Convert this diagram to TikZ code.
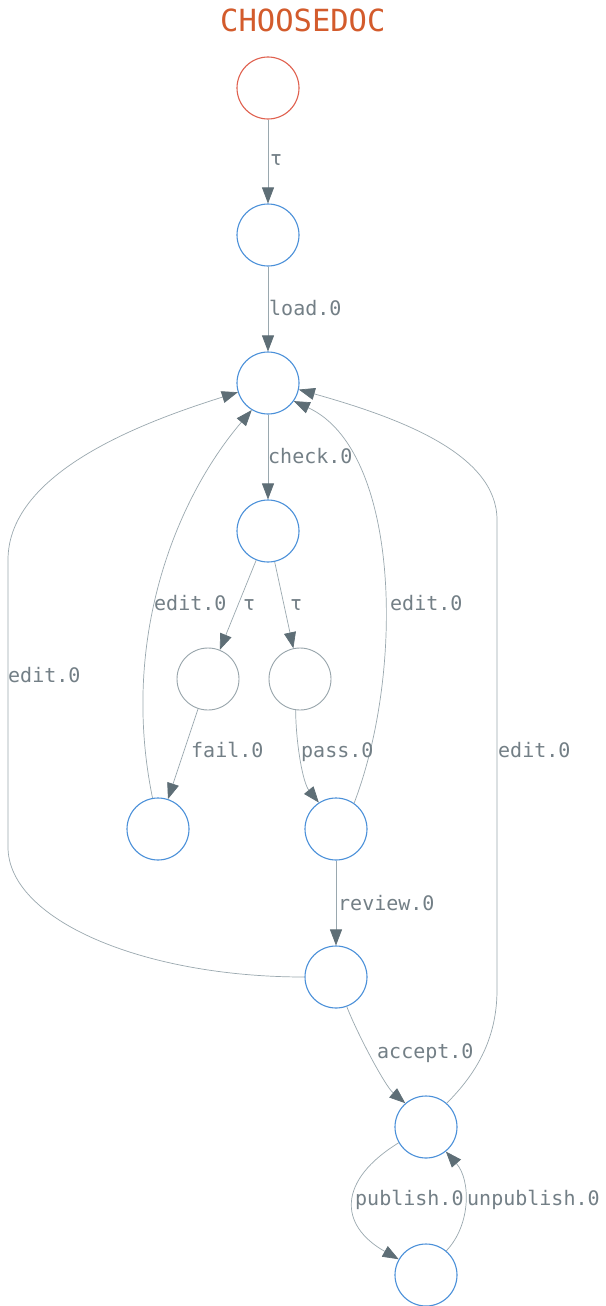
\documentclass[tikz,border=0pt]{standalone}
\usepackage{fontspec}
\newfontfamily\monofont{DejaVu Sans Mono}
\usetikzlibrary{arrows.meta}
\definecolor{stateblue}{HTML}{4A90D9}
\definecolor{statered}{HTML}{E0604E}
\definecolor{stategray}{HTML}{97A4AA}
\definecolor{edgegray}{HTML}{9AA8AF}
\definecolor{arrowdark}{HTML}{5E6E76}
\definecolor{labelgray}{HTML}{737F86}
\definecolor{titleorange}{HTML}{D35B2C}
\begin{document}
\begin{tikzpicture}[x=1pt,y=-1pt,
  state/.style={circle, draw=stateblue, line width=1.1pt, minimum size=62pt, inner sep=0pt},
  initstate/.style={state, draw=statered},
  plainstate/.style={state, draw=stategray, line width=0.9pt},
  edge/.style={draw=edgegray, line width=0.7pt, -{Triangle[length=16pt,width=12pt,color=arrowdark]}},
  lbl/.style={anchor=base west, inner sep=0pt, text=labelgray, font=\monofont\fontsize{20}{24}\selectfont},
  title/.style={anchor=base west, inner sep=0pt, text=titleorange, font=\monofont\fontsize{30.5}{36}\selectfont}]
\fill[white] (0,0) rectangle (605,1306);
\useasboundingbox (0,0) rectangle (605,1306);

\node[title] (title) at (220,32) {CHOOSEDOC};

\node[initstate] (n0) at (268,88) {};
\node[state] (n1) at (268,235) {};
\node[state] (n2) at (268,383) {};
\node[state] (n3) at (268,531) {};
\node[plainstate] (n4) at (208,679) {};
\node[plainstate] (n5) at (300,679) {};
\node[state] (n6) at (158,829) {};
\node[state] (n7) at (336,829) {};
\node[state] (n8) at (336,977) {};
\node[state] (n9) at (426,1127) {};
\node[state] (n10) at (426,1275) {};

\draw[edge] (n0) -- (n1);
\draw[edge] (n1) -- (n2);
\draw[edge] (n2) -- (n3);
\draw[edge] (n3) -- (n4);
\draw[edge] (n3) -- (n5);
\draw[edge] (n4) -- (n6);
\draw[edge] (n5.-98) .. controls (296,745) and (303,783) .. (n7.123);
\draw[edge] (n6.100) .. controls (120,640) and (175,500) .. (n2.-121);
\draw[edge] (n7.55) .. controls (405,670) and (400,450) .. (n2.-35);
\draw[edge] (n7) -- (n8);
\draw[edge] (n8.west) .. controls (141,977) and (8,919) .. (8,847) -- (8,560) .. controls (8,470) and (150,420) .. (n2.-163);
\draw[edge] (n8.-70) .. controls (357,1033) and (385,1086) .. (n9.131);
\draw[edge] (n9.49) .. controls (475,1075) and (497,1040) .. (497,990) -- (497,520) .. controls (497,454) and (400,418) .. (n2.-12);
\draw[edge] (n9.-150) .. controls (338,1180) and (338,1225) .. (n10.150);
\draw[edge] (n10.50) .. controls (471,1225) and (471,1180) .. (n9.-51);

\node[lbl] (l1) at (270,165) {τ};
\node[lbl] (l2) at (269,315) {load.0};
\node[lbl] (l3) at (268,463) {check.0};
\node[lbl] (l4) at (154,610) {edit.0};
\node[lbl] (l5) at (243,610) {τ};
\node[lbl] (l6) at (290,610) {τ};
\node[lbl] (l7) at (390,610) {edit.0};
\node[lbl] (l8) at (8,682) {edit.0};
\node[lbl] (l9) at (191,757) {fail.0};
\node[lbl] (l10) at (301,757) {pass.0};
\node[lbl] (l11) at (498,757) {edit.0};
\node[lbl] (l12) at (338,910) {review.0};
\node[lbl] (l13) at (377,1058) {accept.0};
\node[lbl] (l14) at (355,1205) {publish.0};
\node[lbl] (l15) at (467,1205) {unpublish.0};
\end{tikzpicture}
\end{document}
